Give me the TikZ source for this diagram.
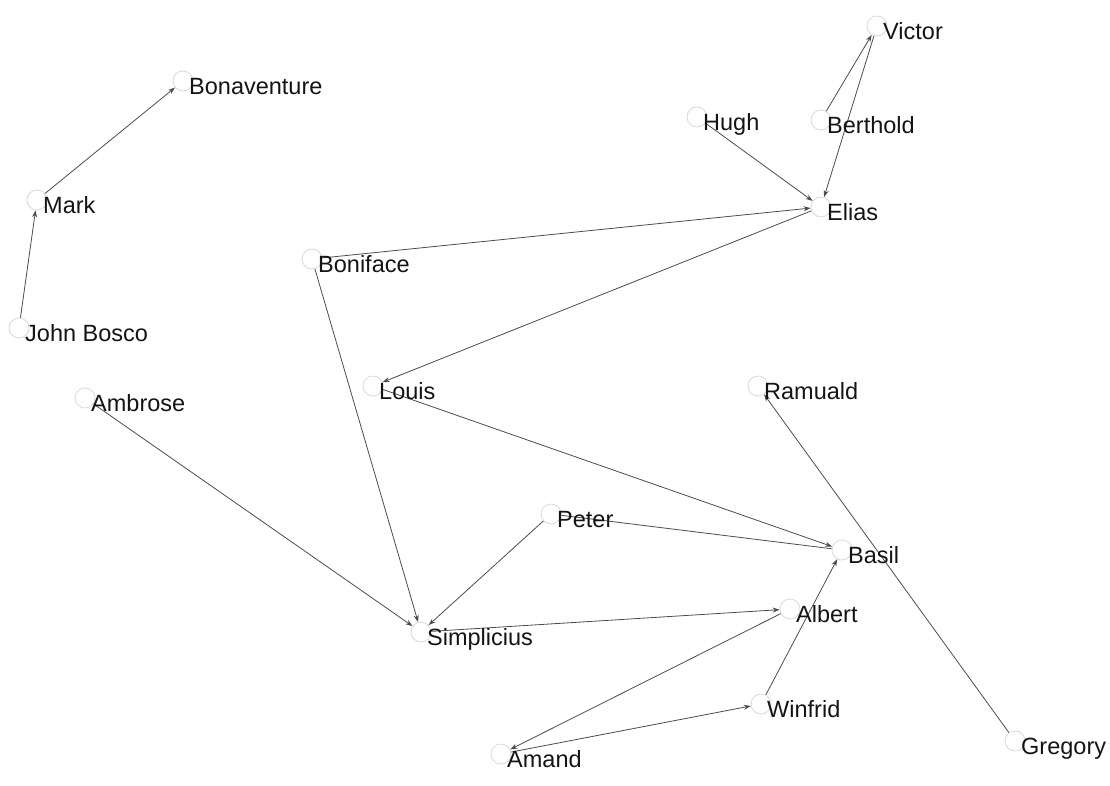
\documentclass[tikz,border=0pt]{standalone}
\usepackage{fontspec}
\setmainfont{Liberation Sans}
\usetikzlibrary{arrows.meta}
\tikzset{
	saint/.style={draw=gray!30, line width=0.8pt, circle, inner sep=0pt, minimum size=20pt},
	saintname/.style={anchor=base west, inner sep=0pt, text=black!92, font=\fontsize{23.5}{28}\selectfont},
	link/.style={draw=black!70, line width=0.8pt, -{Stealth[length=7pt,width=5pt]}}
}
\begin{document}
\begin{tikzpicture}[x=1pt, y=-1pt]
		\useasboundingbox (0,0) rectangle (1110,785);
		% circles
		\node (bonaventure) [saint] at (183,81) {};
		\node (mark) [saint] at (37,200) {};
		\node (johnbosco) [saint] at (19,328) {};
		\node (boniface) [saint] at (312,259) {};
		\node (louis) [saint] at (373,386) {};
		\node (ambrose) [saint] at (85,398) {};
		\node (hugh) [saint] at (697,117) {};
		\node (victor) [saint] at (877,26) {};
		\node (berthold) [saint] at (821,120) {};
		\node (elias) [saint] at (821,207) {};
		\node (ramuald) [saint] at (758,386) {};
		\node (peter) [saint] at (551,514) {};
		\node (basil) [saint] at (842,550) {};
		\node (albert) [saint] at (790,609) {};
		\node (simplicius) [saint] at (421,632) {};
		\node (winfrid) [saint] at (761,704) {};
		\node (amand) [saint] at (501,754) {};
		\node (gregory) [saint] at (1015,741) {};
		
		% edges
		\draw[link] (mark) -- (bonaventure);
		\draw[link] (johnbosco) -- (mark);
		\draw[link] (hugh) -- (elias);
		\draw[link] (berthold) -- (victor);
		\draw[link] (victor) -- (elias);
		\draw[link] (boniface) -- (elias);
		\draw[link] (elias) -- (louis);
		\draw[link] (boniface) -- (simplicius);
		\draw[link] (louis) -- (basil);
		\draw[link, -] (peter) -- (basil);
		\draw[link] (peter) -- (simplicius);
		\draw[link] (ambrose) -- (simplicius);
		\draw[link] (simplicius) -- (albert);
		\draw[link] (albert) -- (amand);
		\draw[link] (amand) -- (winfrid);
		\draw[link] (winfrid) -- (basil);
		\draw[link] (gregory) -- (ramuald);
		
		% names
		\node (bonaventurelbl) [saintname] at (189,94) {Bonaventure};
		\node (marklbl) [saintname] at (43,213) {Mark};
		\node (johnboscolbl) [saintname] at (25,341) {John Bosco};
		\node (bonifacelbl) [saintname] at (318,272) {Boniface};
		\node (louislbl) [saintname] at (379,399) {Louis};
		\node (ambroselbl) [saintname] at (91,411) {Ambrose};
		\node (hughlbl) [saintname] at (703,130) {Hugh};
		\node (victorlbl) [saintname] at (883,39) {Victor};
		\node (bertholdlbl) [saintname] at (827,133) {Berthold};
		\node (eliaslbl) [saintname] at (827,220) {Elias};
		\node (ramualdlbl) [saintname] at (764,399) {Ramuald};
		\node (peterlbl) [saintname] at (557,527) {Peter};
		\node (basillbl) [saintname] at (848,563) {Basil};
		\node (albertlbl) [saintname] at (796,622) {Albert};
		\node (simpliciuslbl) [saintname] at (427,645) {Simplicius};
		\node (winfridlbl) [saintname] at (767,717) {Winfrid};
		\node (amandlbl) [saintname] at (507,767) {Amand};
		\node (gregorylbl) [saintname] at (1021,754) {Gregory};
	\end{tikzpicture}
\end{document}
